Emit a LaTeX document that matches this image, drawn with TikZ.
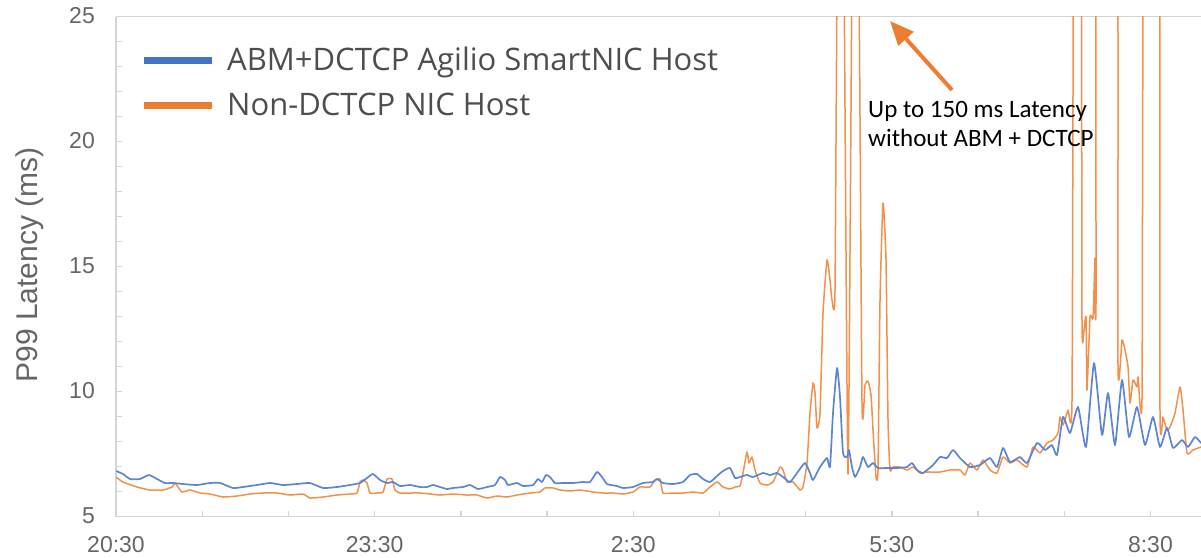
\documentclass[tikz,border=0pt]{standalone}
\usepackage{fontspec}
\setmainfont{Liberation Sans}
\newfontfamily\legendfont{Open Sans}
\newfontfamily\notefont{Carlito}
\usetikzlibrary{arrows.meta}

\definecolor{axisgray}{HTML}{D4D4D4}
\definecolor{labelgray}{HTML}{666666}
\definecolor{legendgray}{HTML}{4E4E4E}
\definecolor{seriesblue}{HTML}{4472C4}
\definecolor{seriesorange}{HTML}{ED7D31}
\definecolor{plotblue}{HTML}{5B86D4}
\definecolor{plotorange}{HTML}{F3914B}

\tikzset{
  axisline/.style={draw=axisgray, line width=1.4pt},
  ticklabel/.style={text=labelgray, font=\fontsize{23}{26}\selectfont, inner sep=0pt},
  axistitle/.style={text=labelgray, font=\fontsize{30}{34}\selectfont, inner sep=0pt},
  legendtext/.style={text=legendgray, font=\legendfont\fontsize{31}{36}\selectfont, inner sep=0pt},
  notetext/.style={text=black, font=\notefont\fontsize{25}{29}\selectfont, inner sep=0pt},
  swatch/.style={line width=7pt},
  blueseries/.style={draw=plotblue, line width=1.7pt, line join=round, line cap=round},
  orangeseries/.style={draw=plotorange, line width=1.5pt, line join=round, line cap=round},
  callout/.style={draw=seriesorange, line width=4pt, -{Triangle[length=24pt,width=20pt]}}
}

\begin{document}
\begin{tikzpicture}[x=1pt, y=-1pt]
\useasboundingbox (0,0) rectangle (1201,557);

% plot frame: top grid line, left and bottom axes
\draw[axisline] (116,16.5) -- (1201,16.5);
\draw[axisline] (116,16.5) -- (116,516.5) -- (1201,516.5);

% minor ticks: one per ms on the y axis, one per hour on the x axis
\foreach \v in {6,...,24}
  \draw[axisline] (116,{516.5-25*(\v-5)}) -- ++(6,0);
\foreach \k in {1,...,12}
  \draw[axisline] ({116+86.2*\k},516.5) -- ++(0,-6);

% tick labels
\foreach \v in {5,10,15,20,25}
  \node[ticklabel, anchor=east] (ylab\v) at (95,{515.5-25*(\v-5)}) {\v};
\foreach \k/\t in {0/20:30,3/23:30,6/2:30,9/5:30,12/8:30}
  \node[ticklabel] (xlab\k) at ({116+86.2*\k},544.5) {\t};

% axis title
\node[axistitle, rotate=90, anchor=base] (ytitle) at (37,265) {P99 Latency (ms)};

% latency series, clipped to the plot area
\begin{scope}
\clip (116,16.5) rectangle (1201,516.5);
\draw[orangeseries] plot[smooth, tension=0.3] coordinates {
 (116,477) (123,482) (137,487) (150,490) (163,490) (172,487) (175,483) (178,487)
 (182,492) (190,490) (200,493) (210,494) (223,497) (237,496) (250,494) (263,493)
 (277,493) (290,495) (303,494) (310,498) (323,497) (337,495) (350,494) (357,493)
 (360,482) (363,480) (367,483) (370,493) (377,493) (383,492) (387,479) (392,479)
 (395,490) (400,493) (410,493) (420,493) (430,494) (440,495) (453,494) (467,495)
 (477,495) (487,498) (497,496) (507,497) (517,495) (530,493) (540,492) (545,488)
 (553,488) (560,490) (570,491) (580,490) (593,492) (603,493) (613,493) (623,494)
 (633,492) (640,487) (650,487) (655,480) (660,479) (663,493) (673,493) (683,493)
 (693,492) (703,493) (710,487) (717,482) (723,487) (730,489) (735,487) (740,486)
 (743,473) (747,452) (749,463) (752,457) (755,470) (760,483) (767,485) (773,482)
 (780,467) (783,470) (787,482) (793,482) (800,490) (803,487) (807,463) (810,413)
 (813,383) (815,393) (817,428) (820,413) (823,313) (827,260) (830,280) (832,300)
 (835,290) (838,-150) (843,-150) (848,474) (853,-150) (858,-150) (862,403)
 (865,385) (868,381) (871,395) (873,430) (876,477) (878,470) (880,300) (883,203)
 (886,260) (888,420) (890,470) (893,467) (900,467) (907,470) (913,467) (920,473)
 (927,472) (940,472) (950,470) (960,470) (965,475) (970,463) (977,470) (983,460)
 (990,470) (997,473) (1003,457) (1010,463) (1017,460) (1027,467) (1033,447)
 (1040,453) (1047,443) (1053,440) (1058,433) (1060,417) (1063,425) (1068,410)
 (1072,400) (1074,-150) (1081,-150) (1082,323) (1084,330) (1086,317) (1087,390)
 (1090,317) (1093,318) (1095,258) (1095,307) (1096,300) (1097,-150) (1117,-150)
 (1118,367) (1122,340) (1125,350) (1128,367) (1130,403) (1133,380) (1137,387)
 (1138,377) (1142,398) (1144,-150) (1159,-150) (1160,413) (1163,417) (1167,430)
 (1170,427) (1175,413) (1180,387) (1183,410) (1187,453) (1193,450) (1201,447)
};
\draw[blueseries] plot[smooth, tension=0.3] coordinates {
 (116,471) (123,474) (130,479) (140,479) (149,475) (157,479) (165,483) (173,483)
 (183,484) (197,485) (210,483) (220,483) (233,488) (243,487) (257,485) (270,483)
 (283,485) (297,484) (310,483) (323,488) (337,487) (350,485) (360,483) (367,478)
 (373,474) (380,480) (387,483) (393,482) (400,486) (410,485) (420,487) (427,487)
 (433,485) (440,487) (447,489) (453,488) (463,487) (470,485) (478,489) (487,487)
 (495,485) (500,477) (505,480) (508,485) (517,483) (523,486) (533,485) (538,479)
 (542,482) (546,475) (550,477) (555,483) (563,483) (573,483) (583,482) (590,482)
 (597,472) (602,477) (607,484) (617,486) (623,488) (633,487) (643,483) (653,482)
 (657,479) (663,483) (673,484) (683,482) (690,475) (697,474) (703,479) (710,482)
 (717,476) (723,471) (730,468) (735,478) (740,477) (747,475) (753,477) (763,473)
 (770,475) (777,473) (783,477) (790,482) (797,473) (805,463) (810,473) (813,480)
 (820,467) (827,458) (830,467) (833,413) (837,368) (840,397) (843,453) (847,457)
 (849,450) (852,467) (855,477) (860,467) (863,457) (868,467) (873,463) (878,468)
 (887,468) (897,468) (907,467) (912,463) (917,470) (923,473) (933,465) (940,457)
 (947,458) (953,450) (960,458) (970,467) (980,465) (990,458) (997,467) (1003,448)
 (1010,462) (1020,457) (1027,463) (1037,443) (1045,450) (1052,445) (1057,455)
 (1063,417) (1070,433) (1078,407) (1086,447) (1094,363) (1102,435) (1108,393)
 (1115,445) (1122,380) (1129,437) (1137,407) (1145,445) (1153,417) (1160,447)
 (1167,428) (1173,448) (1182,440) (1188,447) (1195,437) (1201,443)
};
\end{scope}

% legend
\draw[swatch, draw=seriesblue] (144,60) -- (212,60);
\draw[swatch, draw=seriesorange] (144,105) -- (212,105);
\node[legendtext, anchor=base west] (legblue) at (227,70) {ABM+DCTCP Agilio SmartNIC Host};
\node[legendtext, anchor=base west] (legorange) at (227,115) {Non-DCTCP NIC Host};

% callout
\node[notetext, anchor=base west] (noteA) at (868,117) {Up to 150 ms Latency};
\node[notetext, anchor=base west] (noteB) at (868,146) {without ABM + DCTCP};
\coordinate (calloutfrom) at (952,90);
\coordinate (calloutto) at (890,21);
\draw[callout] (calloutfrom) -- (calloutto);
\end{tikzpicture}
\end{document}
